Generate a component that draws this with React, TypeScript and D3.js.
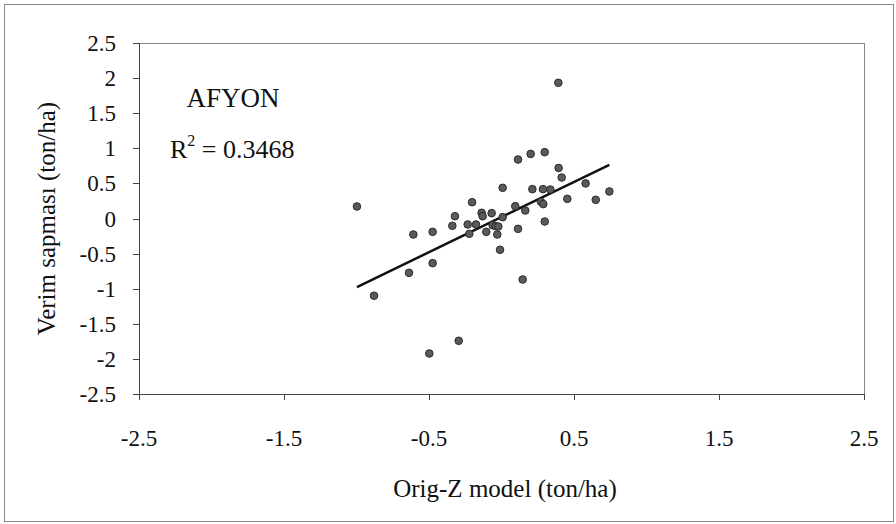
import React from "react";
import * as d3 from "d3";

const xValues: number[] = [
  -0.997, -0.879, -0.638, -0.608, -0.498, -0.475, -0.475, -0.339, -0.321, -0.295,
  -0.233, -0.222, -0.203, -0.176, -0.137, -0.13, -0.105, -0.068, -0.061, -0.04,
  -0.022, -0.029, -0.01, 0.008, 0.008, 0.095, 0.114, 0.114, 0.146, 0.164,
  0.201, 0.213, 0.272, 0.288, 0.286, 0.298, 0.298, 0.337, 0.392, 0.394,
  0.415, 0.454, 0.58, 0.65, 0.744,
];
const yValues: number[] = [
  0.171, -1.1, -0.774, -0.228, -1.923, -0.636, -0.19, -0.104, 0.033, -1.742,
  -0.085, -0.218, 0.232, -0.085, 0.081, 0.033, -0.19, 0.076, -0.095, -0.11,
  -0.114, -0.228, -0.446, 0.019, 0.437, 0.176, -0.147, 0.84, -0.869, 0.114,
  0.92, 0.418, 0.238, 0.205, 0.418, 0.945, -0.043, 0.413, 1.933, 0.72,
  0.584, 0.28, 0.5, 0.266, 0.385,
];
const xTicks: number[] = [-2.5, -1.5, -0.5, 0.5, 1.5, 2.5];
const yTicks: number[] = [2.5, 2, 1.5, 1, 0.5, 0, -0.5, -1, -1.5, -2, -2.5];
const trendSlope = 1.0;
const trendIntercept = 0.02;
const chartLabel = "AFYON";
const r2Text = "0.3468";
const xTitle = "Orig-Z model (ton/ha)";
const yTitle = "Verim sapması (ton/ha)";

export default function App() {
  const W = 896, H = 524;
  const left = 139, right = 864, top = 43, bottom = 394;
  const x = d3.scaleLinear().domain([-2.5, 2.5]).range([left, right]);
  const y = d3.scaleLinear().domain([-2.5, 2.5]).range([bottom, top]);
  const points = xValues.map((v, i) => ({ x: v, y: yValues[i] }));
  const xMin = d3.min(xValues) as number;
  const xMax = d3.max(xValues) as number;
  const trend = [xMin, xMax].map((v) => ({ x: v, y: trendSlope * v + trendIntercept }));
  const line = d3.line<{ x: number; y: number }>().x((d) => x(d.x)).y((d) => y(d.y));
  const tf: React.CSSProperties = { fontFamily: '"Liberation Serif", "DejaVu Serif", serif' };
  const fmt = (v: number) => (v < 0 ? "-" + String(Math.abs(v)) : String(v));

  return (
    <svg width={W} height={H} style={{ position: "absolute", left: 0, top: 0, background: "#fff" }}>
      <rect x={4.5} y={4.5} width={889} height={517} fill="#fff" stroke="#888" strokeWidth={1} />
      <line x1={left} x2={right} y1={top + 0.5} y2={top + 0.5} stroke="#888" />
      <line x1={right + 0.5} x2={right + 0.5} y1={top} y2={bottom} stroke="#888" />
      <line x1={left + 0.5} x2={left + 0.5} y1={top} y2={bottom} stroke="#444" />
      <line x1={left} x2={right} y1={bottom + 0.5} y2={bottom + 0.5} stroke="#444" />
      {yTicks.map((t) => (
        <g key={"y" + t}>
          <line x1={left - 6} x2={left} y1={Math.round(y(t)) + 0.5} y2={Math.round(y(t)) + 0.5} stroke="#444" />
          <text x={116} y={y(t)} dy="0.35em" textAnchor="end" fontSize={23} fill="#111" style={tf}>{fmt(t)}</text>
        </g>
      ))}
      {xTicks.map((t) => (
        <g key={"x" + t}>
          <line x1={Math.round(x(t)) + 0.5} x2={Math.round(x(t)) + 0.5} y1={bottom} y2={bottom + 6} stroke="#444" />
          <text x={x(t)} y={437.5} dy="0.35em" textAnchor="middle" fontSize={23} fill="#111" style={tf}>{fmt(t)}</text>
        </g>
      ))}
      <text x={505} y={488} dy="0.35em" textAnchor="middle" fontSize={25} fill="#111" style={tf}>{xTitle}</text>
      <text transform={`translate(46,${(top + bottom) / 2}) rotate(-90)`} dy="0.35em" textAnchor="middle" fontSize={25} fill="#111" style={tf}>{yTitle}</text>
      <path d={line(trend) || ""} fill="none" stroke="#111" strokeWidth={2.5} />
      {points.map((p, i) => (
        <circle key={i} cx={x(p.x)} cy={y(p.y)} r={3.8} fill="#5a5a5a" stroke="#2a2a2a" strokeWidth={1} />
      ))}
      <text x={233} y={107} textAnchor="middle" fontSize={27} fill="#111" style={tf}>{chartLabel}</text>
      <text x={170} y={158} fontSize={26} fill="#111" style={tf}>
        R<tspan fontSize={16} dy={-12}>2</tspan><tspan dy={12}>{" = " + r2Text}</tspan>
      </text>
    </svg>
  );
}
